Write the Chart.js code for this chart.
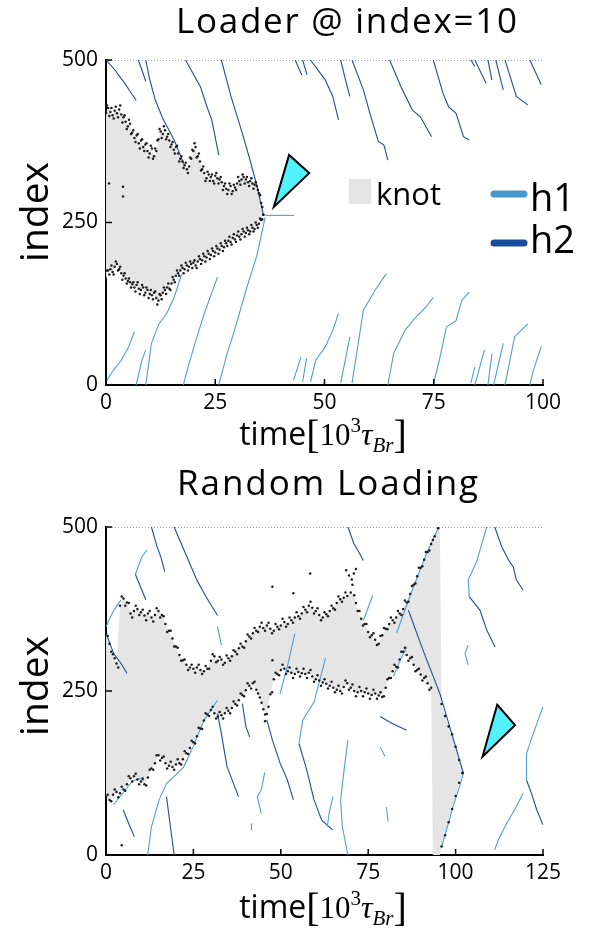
<!DOCTYPE html>
<html><head><meta charset="utf-8">
<script src="https://cdn.jsdelivr.net/npm/chart.js@4.4.0/dist/chart.umd.min.js"></script>
<style>
html,body{margin:0;padding:0;background:#fff;}
#wrap{position:relative;width:595px;height:933px;overflow:hidden;}
canvas{position:absolute;left:0;}
</style></head><body>
<div id="wrap">
<canvas id="c1" width="595" height="466" style="top:0"></canvas>
<canvas id="c2" width="595" height="467" style="top:466px"></canvas>
</div>
<script>
// ---------- DATA : top panel (Loader @ index=10) ----------
const topXTicks = [0, 25, 50, 75, 100];
const yTicks = [0, 250, 500];
const topKnotT = [0,0.5,1,1.5,2,2.5,3,3.5,4,4.5,5,5.5,6,6.5,7,7.5,8,8.5,9,9.5,10,10.5,11,11.5,12,12.5,13,13.5,14,14.5,15,15.5,16,16.5,17,17.5,18,18.5,19,19.5,20,20.5,21,21.5,22,22.5,23,23.5,24,24.5,25,25.5,26,26.5,27,27.5,28,28.5,29,29.5,30,30.5,31,31.5,32,32.5,33,33.5,34,34.5,35,35.5,36];
const topKnotUpper = [418,426,420,415,422,418,424,416,412,405,398,402,388,380,384,372,376,366,370,360,356,364,352,360,378,390,386,392,382,376,370,362,366,356,348,344,338,332,336,348,360,366,352,344,332,326,318,324,320,314,322,318,316,312,306,302,300,306,298,304,310,314,316,320,316,312,314,310,308,306,295,280,262];
const topKnotLower = [162,176,178,174,182,186,178,172,168,164,160,158,155,150,154,148,146,150,142,146,140,138,142,134,130,138,142,146,150,148,156,162,168,172,176,180,178,184,182,186,188,184,190,194,192,198,196,202,200,206,204,210,208,214,212,218,222,220,226,224,230,228,232,236,234,238,236,242,240,246,248,254,262];
const topDotT = [0.25,0.75,1.25,1.75,2.25,2.75,3.25,3.75,4.25,4.75,5.25,5.75,6.25,6.75,7.25,7.75,8.25,8.75,9.25,9.75,10.25,10.75,11.25,11.75,12.25,12.75,13.25,13.75,14.25,14.75,15.25,15.75,16.25,16.75,17.25,17.75,18.25,18.75,19.25,19.75,20.25,20.75,21.25,21.75,22.25,22.75,23.25,23.75,24.25,24.75,25.25,25.75,26.25,26.75,27.25,27.75,28.25,28.75,29.25,29.75,30.25,30.75,31.25,31.75,32.25,32.75,33.25,33.75,34.25,34.75,35.25,35.75];
const topDotUpper = [430,414,426,410,428,412,430,404,415,394,408,386,392,374,386,364,378,360,372,350,368,348,364,376,394,380,398,378,386,366,374,356,368,344,352,334,342,326,350,362,372,350,356,330,336,314,328,314,324,310,326,310,320,300,310,294,310,294,308,300,320,308,324,310,320,306,318,302,312,300,292,274];
const topDotLower = [176,170,184,170,190,176,182,162,172,156,164,150,158,144,158,140,154,138,150,134,146,132,144,124,140,132,150,140,156,146,166,158,176,168,184,172,188,176,190,180,192,180,198,186,202,190,206,194,210,198,214,202,218,206,222,214,228,216,232,220,236,224,240,228,242,232,246,236,250,242,256,255];
const topOutliers = [[0.7,310],[3.9,305],[3.9,290]];
const topH2 = [
 [[0,500],[2,485],[4.3,464],[5.5,452],[6.9,438]],
 [[7.4,500],[8.2,485],[9.1,467]],
 [[9.1,500],[10,470],[11.3,438],[13,410],[15.6,377],[16.5,362],[17.8,340]],
 [[18.2,500],[21.6,459],[23,430],[24.2,408],[25.8,354]],
 [[26.4,500],[28.6,444],[31.2,387],[33,345],[34.6,305],[36,262]],
 [[43.3,500],[44.8,477]],
 [[45,500],[46,477]],
 [[46.8,500],[50.2,469],[51.9,444],[53.2,408]],
 [[53.7,500],[55,464],[55.8,444]],
 [[56.3,500],[58.9,454],[60.6,413],[62.3,375],[63.6,369],[64.5,346]],
 [[64.9,500],[67.5,459],[70.1,423],[71.9,413],[74.5,382]],
 [[74.9,500],[77.1,449],[78.4,428],[80.1,418],[81.8,382],[83.1,377]],
 [[83.5,500],[84.4,490]],
 [[84.4,500],[87,464]],
 [[87.4,500],[88.3,469]],
 [[89.2,500],[90.9,454]],
 [[91.3,500],[93.9,444],[96.5,431]],
 [[97,500],[99.6,462]]
];
const topH1 = [
 [[0,5],[1.7,23],[3.5,38],[5.2,59],[6.5,82]],
 [[6.9,0],[8.2,38],[9.1,54]],
 [[9.1,0],[10.4,64],[12.1,94],[13.9,110],[15.6,135],[17.3,170]],
 [[17.7,0],[19,33],[20.8,74],[22.5,110],[25.5,166]],
 [[25.8,0],[27.7,48],[29.4,84],[32,145],[34.6,201],[36.4,258]],
 [[36.4,261],[43,261]],
 [[42.9,7],[44.6,43]],
 [[45,5],[45.9,41]],
 [[46.8,5],[48,38],[50.2,59],[51.9,84],[53.2,110]],
 [[53.7,3],[55.8,74]],
 [[56.3,3],[58.9,115],[61.5,145],[64.1,171]],
 [[64.5,0],[65.8,48],[68.4,84],[71,105],[73.2,120],[74.9,135]],
 [[74.9,0],[76.6,48],[77.9,89],[80.1,99],[81.4,130],[83.1,143]],
 [[83.5,3],[84.4,28]],
 [[84.4,0],[86.6,54]],
 [[87.4,0],[88.3,48]],
 [[88.7,0],[90.9,64]],
 [[91.3,0],[93.5,74],[96.5,94]],
 [[97,0],[97.8,23],[99.6,59]]
];
const topTriangle = [[41.9,354],[46.5,326],[38.4,274]];

// ---------- DATA : bottom panel (Random Loading) ----------
const botXTicks = [0, 25, 50, 75, 100, 125];
const botKnotT = [0,1,2,3,4,5,6,7,8,9,10,11,12,13,14,15,16,17,18,19,20,21,22,23,24,25,26,27,28,29,30,31,32,33,34,35,36,37,38,39,40,41,42,43,44,45,46,47,48,49,50,51,52,53,54,55,56,57,58,59,60,61,62,63,64,65,66,67,68,69,70,71,72,73,74,75,76,77,78,79,80,81,82,83,84,85,86,87,88,89,90,91,92,93,93.5,94,95,95.5,96,97,98,99,100,101,102];
const botKnotUpper = [338,322,306,292,380,391,385,368,372,375,370,365,368,362,366,372,366,352,342,330,318,305,297,290,286,284,286,282,280,284,296,303,296,298,293,300,303,310,315,318,326,333,338,342,348,346,350,345,342,348,350,355,352,358,362,364,368,374,380,377,372,366,362,367,372,376,384,390,392,395,400,396,372,360,352,340,335,328,322,335,345,352,358,362,368,375,385,398,412,425,438,450,462,474,480,486,498,500,230,212,196,184,165,145,125];
const botKnotLower = [89,84,92,96,94,100,108,117,120,115,112,108,118,132,140,152,148,140,136,134,138,140,146,155,163,172,181,193,205,214,221,216,211,213,216,220,224,230,236,244,251,258,262,252,240,222,215,245,268,276,282,284,280,278,276,279,277,276,278,272,268,266,263,261,258,255,252,250,256,262,255,250,248,250,248,246,244,246,243,241,255,270,280,287,298,310,305,300,290,282,275,270,262,255,0,0,0,0,13,30,50,70,90,110,125];
const botDotT = [0.5,1.5,2.5,3.5,4.5,5.5,6.5,7.5,8.5,9.5,10.5,11.5,12.5,13.5,14.5,15.5,16.5,17.5,18.5,19.5,20.5,21.5,22.5,23.5,24.5,25.5,26.5,27.5,28.5,29.5,30.5,31.5,32.5,33.5,34.5,35.5,36.5,37.5,38.5,39.5,40.5,41.5,42.5,43.5,44.5,45.5,46.5,47.5,48.5,49.5,50.5,51.5,52.5,53.5,54.5,55.5,56.5,57.5,58.5,59.5,60.5,61.5,62.5,63.5,64.5,65.5,66.5,67.5,68.5,69.5,70.5,71.5,72.5,73.5,74.5,75.5,76.5,77.5,78.5,79.5,80.5,81.5,82.5,83.5,84.5,85.5,86.5,87.5,88.5,89.5,90.5,91.5,92.5];
const botDotUpper = [334,310,300,286,394,380,384,362,380,366,374,358,372,356,376,362,364,340,342,318,316,296,298,282,290,278,290,276,288,284,306,294,302,290,304,296,312,306,322,316,336,330,346,340,354,342,354,338,352,344,360,348,362,354,370,360,378,370,386,368,376,358,370,364,380,374,394,386,400,426,412,384,372,350,352,332,338,320,334,346,344,362,354,372,366,388,386,410,414,438,440,462,464];
const botDotLower = [92,82,100,88,104,98,120,112,124,108,116,106,130,130,152,144,150,132,142,130,146,138,158,154,174,170,194,192,216,212,226,208,218,208,224,216,234,228,246,242,262,254,264,246,232,214,226,248,278,274,290,276,286,270,284,272,284,270,282,264,274,258,268,254,264,248,258,246,266,252,260,242,256,242,254,238,252,238,248,242,268,270,290,286,310,316,296,302,280,284,266,272,252];
const botOutliers = [[47.6,409],[58.4,429],[53.6,399],[68.7,434],[47.6,297],[4.5,15],[70.9,429],[71.5,436],[70.3,420],[45.5,204]];
const botH2 = [
 [[0,338],[2.2,307],[4.3,292],[6,277]],
 [[8.4,428],[11.4,389]],
 [[13,500],[14.6,470],[15.7,454],[16.8,432]],
 [[19.5,500],[22.7,460],[26,419],[28.7,393],[31.9,365]],
 [[69.2,500],[70.9,475],[72.5,460],[73.6,449]],
 [[86.5,373],[90.7,312],[95.5,246],[98.9,185],[102.2,125]],
 [[103.9,394],[107,373],[108.9,343],[111.3,317]],
 [[111.2,500],[113.2,470],[115.1,450],[116.5,439],[117.4,419],[119.3,404]],
 [[120.3,114],[121.7,94],[123.2,69],[125,46]],
 [[4.9,69],[6.5,48],[8.1,28]],
 [[17.3,89],[18.5,40],[19.5,0]],
 [[39,231],[40,196],[41.1,180]],
 [[46,206],[47.6,175],[49.8,140],[51.9,114],[53.6,84]],
 [[55.2,170],[57.4,130],[59.5,84],[61.7,53],[64.9,38]],
 [[78.4,211],[82,200],[86,190]],
 [[31.9,216],[33,185],[34.6,135],[37.9,89]]
];
const botH1 = [
 [[0,348],[2.2,373],[4.3,389]],
 [[8.4,428],[10.3,455],[11.7,465]],
 [[31.9,348],[33,320]],
 [[73.6,357],[76.3,396]],
 [[103.6,320],[102.7,307],[103.6,290]],
 [[108.9,500],[107,465],[106,447],[103.6,419],[103.9,394]],
 [[49.8,246],[52,290],[54,337]],
 [[55.2,170],[56.3,206],[59.5,233],[62.8,300]],
 [[82.2,272],[84,295],[86,317]],
 [[83.1,338],[86.9,394],[91.7,460],[95,498]],
 [[96,13],[97.4,38],[99.3,74],[101.7,114],[102.2,125]],
 [[11.9,0],[13,43],[15.2,84],[17.3,109],[19.5,120],[22.2,134],[24.9,165],[28.1,206],[31.9,236]],
 [[2.2,77],[7.6,113],[10.8,119]],
 [[45.4,126],[44.4,99],[43.3,89],[44.4,63]],
 [[41.6,38],[41.6,48]],
 [[64.9,89],[63.8,63],[63.3,43]],
 [[69.2,0],[67.6,43],[67.1,84],[68.2,134],[69.2,175]],
 [[80.2,73],[80.7,51]],
 [[78.4,165],[79.8,150]],
 [[125,226],[122.2,185],[120.3,155],[120.3,114]],
 [[111.2,8],[112.2,23],[114.6,48],[117.4,74],[119.3,94]]
];
const botTriangle = [[111.9,229],[117,198],[107.7,150]];

// ---------- STYLE ----------
const H1C = '#4f9fd6', H2C = '#1f4e9b', KNOT = '#e5e5e5', DOT = '#1c1c1c';
const SANS = '"Open Sans", "Noto Sans", sans-serif';
const SERIF = '"Liberation Serif", "DejaVu Serif", serif';
const pr = c => { const v = c.raw ? c.raw.y : 1; return (v<=0||v>=500)?0:1.25; };

function pathDatasets(paths, color){
  return paths.map(p => ({type:'line', data:p.map(q=>({x:q[0],y:q[1]})), borderColor:color,
    borderWidth:1.1, pointRadius:0, fill:false, tension:0, order:2}));
}
function knotDatasets(T, U, L){
  return [
    {type:'line', data:T.map((t,i)=>({x:t,y:L[i]})), borderWidth:0, borderColor:'rgba(0,0,0,0)',
     pointRadius:pr, pointBackgroundColor:DOT, pointBorderWidth:0, fill:false, order:0},
    {type:'line', data:T.map((t,i)=>({x:t,y:U[i]})), borderWidth:0, borderColor:'rgba(0,0,0,0)',
     backgroundColor:KNOT, pointRadius:pr, pointBackgroundColor:DOT, pointBorderWidth:0, fill:'-1', order:0}
  ];
}
function dotDataset(pts){
  return {type:'line', data:pts, showLine:false, pointRadius:pr,
    pointBackgroundColor:DOT, pointBorderWidth:0, order:0};
}

function drawXTitle(ctx, cx, base){
  const parts = [
    {t:'time', f:'32px '+SANS, dy:0},
    {t:'[', f:'40px '+SERIF, dy:3},
    {t:'10', f:'31px '+SERIF, dy:0},
    {t:'3', f:'21px '+SERIF, dy:-13},
    {t:'\u03C4', f:'italic 32px '+SERIF, dy:0},
    {t:'Br', f:'italic 21px '+SERIF, dy:7},
    {t:']', f:'40px '+SERIF, dy:3}
  ];
  let w = 0;
  parts.forEach(p=>{ctx.font=p.f; p.w=ctx.measureText(p.t).width; w+=p.w;});
  let x = cx - w/2;
  ctx.fillStyle='#000'; ctx.textAlign='left'; ctx.textBaseline='alphabetic';
  parts.forEach(p=>{ctx.font=p.f; ctx.fillText(p.t, x, base+p.dy); x+=p.w;});
}

function drawFitted(ctx, text, font, x0, width, base){
  ctx.font = font; ctx.letterSpacing = '0px';
  const w0 = ctx.measureText(text).width;
  const sp = Math.max(0, (width - w0) / (text.length - 1));
  ctx.letterSpacing = sp.toFixed(2) + 'px';
  ctx.textAlign = 'left';
  ctx.fillText(text, x0, base);
  ctx.letterSpacing = '0px';
}

function deco(opt){
  return {
    id:'deco',
    beforeDatasetsDraw(chart){
      const {ctx, chartArea:a, scales:{y}} = chart;
      ctx.save();
      ctx.strokeStyle='#a8a8a8'; ctx.lineWidth=1; ctx.setLineDash([1,2]);
      const py = Math.round(y.getPixelForValue(500))+0.5;
      ctx.beginPath(); ctx.moveTo(a.left, py); ctx.lineTo(a.right, py); ctx.stroke();
      ctx.restore();
    },
    afterDraw(chart){
      const {ctx, chartArea:a, scales:{x,y}} = chart;
      ctx.save();
      ctx.strokeStyle='#000'; ctx.lineWidth=1.5; ctx.setLineDash([]);
      opt.xTicks.forEach(v=>{const px=x.getPixelForValue(v); ctx.beginPath(); ctx.moveTo(px,a.bottom); ctx.lineTo(px,a.bottom-6); ctx.stroke();});
      yTicks.forEach(v=>{const py=y.getPixelForValue(v); ctx.beginPath(); ctx.moveTo(a.left,py); ctx.lineTo(a.left+6,py); ctx.stroke();});
      ctx.fillStyle='#000'; ctx.textBaseline='alphabetic';
      drawFitted(ctx, opt.title, '35px '+SANS, opt.titleX0, opt.titleW, opt.titleY);
      ctx.save();
      ctx.translate(opt.yTitleX, opt.yTitleY); ctx.rotate(-Math.PI/2);
      ctx.font='39px '+SANS; ctx.textAlign='center'; ctx.textBaseline='alphabetic';
      ctx.fillText('index', 0, 0);
      ctx.restore();
      drawXTitle(ctx, opt.xTitleX, opt.xTitleY);
      const tri = opt.triangle.map(p=>[x.getPixelForValue(p[0]), y.getPixelForValue(p[1])]);
      ctx.beginPath(); ctx.moveTo(tri[0][0],tri[0][1]); ctx.lineTo(tri[1][0],tri[1][1]); ctx.lineTo(tri[2][0],tri[2][1]); ctx.closePath();
      ctx.fillStyle='#52f2fb'; ctx.fill(); ctx.strokeStyle='#000'; ctx.lineWidth=2; ctx.lineJoin='miter'; ctx.stroke();
      if (opt.legend){
        ctx.fillStyle=KNOT; ctx.fillRect(349,179,22,25);
        ctx.fillStyle='#000'; ctx.textAlign='left'; ctx.font='31px '+SANS;
        ctx.fillText('knot', 376, 205);
        ctx.lineCap='round'; ctx.lineWidth=7;
        ctx.strokeStyle='#4a98cb'; ctx.beginPath(); ctx.moveTo(494,194); ctx.lineTo(524,194); ctx.stroke();
        ctx.strokeStyle='#164d9a'; ctx.beginPath(); ctx.moveTo(494,243); ctx.lineTo(524,243); ctx.stroke();
        ctx.fillStyle='#000'; ctx.font='38px '+SANS;
        ctx.fillText('h1', 530, 211);
        ctx.fillText('h2', 530, 253);
      }
      ctx.restore();
    }
  };
}

function makeChart(id, o){
  const datasets = [].concat(
    knotDatasets(o.T, o.U, o.L),
    [dotDataset(o.dotT.map((t,i)=>({x:t,y:o.dotU[i]}))),
     dotDataset(o.dotT.map((t,i)=>({x:t,y:o.dotL[i]}))),
     dotDataset(o.out.map(q=>({x:q[0],y:q[1]})))],
    pathDatasets(o.h1, H1C),
    pathDatasets(o.h2, H2C)
  );
  return new Chart(document.getElementById(id), {
    type:'line',
    data:{datasets},
    options:{
      responsive:false, animation:false, devicePixelRatio:1,
      layout:{padding:{top:o.padTop, right:52, left:0, bottom:0}},
      plugins:{legend:{display:false}, tooltip:{enabled:false}, filler:{drawTime:'beforeDatasetsDraw'}},
      elements:{line:{tension:0}},
      scales:{
        x:{type:'linear', min:0, max:o.xMax,
           afterFit:s=>{s.height=o.xAxisH;},
           grid:{display:false, drawTicks:false},
           border:{display:true, color:'#000', width:2},
           afterBuildTicks:s=>{s.ticks=o.xTicks.map(v=>({value:v}));},
           ticks:{padding:5, color:'#000', font:{family:'Open Sans', size:21}}},
        y:{type:'linear', min:0, max:500,
           afterFit:s=>{s.width=106;},
           grid:{display:false, drawTicks:false},
           border:{display:true, color:'#000', width:2},
           afterBuildTicks:s=>{s.ticks=yTicks.map(v=>({value:v}));},
           ticks:{padding:8, color:'#000', font:{family:'Open Sans', size:21}}}
      }
    },
    plugins:[deco(o)]
  });
}

makeChart('c1', {T:topKnotT, U:topKnotUpper, L:topKnotLower, dotT:topDotT, dotU:topDotUpper, dotL:topDotLower,
  out:topOutliers, h1:topH1, h2:topH2,
  xMax:100, xTicks:topXTicks, padTop:60, xAxisH:81, triangle:topTriangle, legend:true,
  title:'Loader @ index=10', titleX0:176, titleW:341, titleY:33, yTitleX:48, yTitleY:212, xTitleX:323, xTitleY:445});
makeChart('c2', {T:botKnotT, U:botKnotUpper, L:botKnotLower, dotT:botDotT, dotU:botDotUpper, dotL:botDotLower,
  out:botOutliers, h1:botH1, h2:botH2,
  xMax:125, xTicks:botXTicks, padTop:61, xAxisH:78, triangle:botTriangle, legend:false,
  title:'Random Loading', titleX0:177, titleW:301, titleY:29, yTitleX:48, yTitleY:220, xTitleX:323, xTitleY:452});
</script>
</body></html>
